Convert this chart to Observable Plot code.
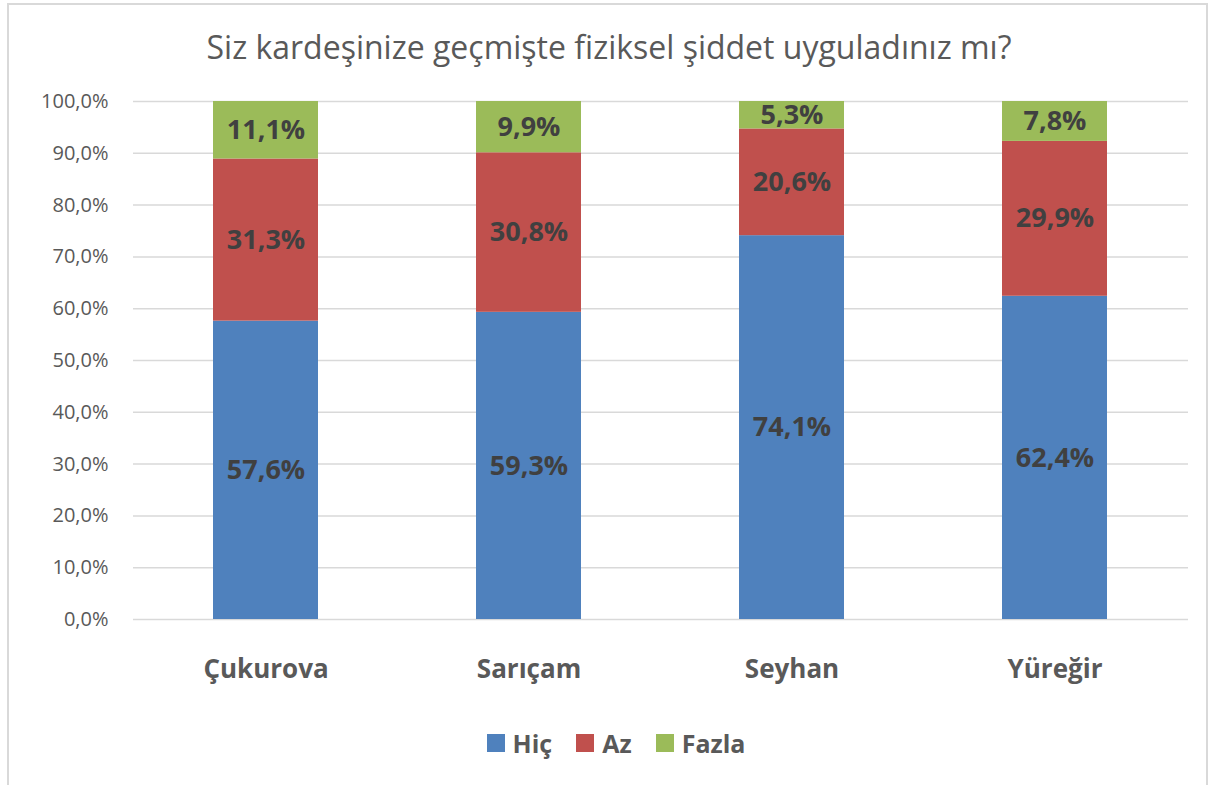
<!DOCTYPE html>
<html>
<head>
<meta charset="utf-8">
<script src="https://cdn.jsdelivr.net/npm/d3@7"></script>
<script src="https://cdn.jsdelivr.net/npm/@observablehq/plot@0.6"></script>
<style>
  html, body { margin: 0; padding: 0; background: #fff; }
  body { width: 1218px; height: 785px; position: relative; overflow: hidden; font-family: "Open Sans", sans-serif; }
  #frame { position: absolute; left: 7px; top: 3px; width: 1201px; height: 800px; border: 2px solid #d9d9d9; box-sizing: border-box; }
  #title { position: absolute; left: 0; width: 1218px; top: 25px; text-align: center; font-size: 32px; color: #595959; }
  #chart { position: absolute; left: 0; top: 0; }
  #legend { position: absolute; left: 0; width: 1218px; top: 726px; display: flex; justify-content: center; gap: 24px; font-size: 25px; font-weight: bold; color: #595959; padding-left: 14px; box-sizing: border-box; }
  #legend span.item { display: flex; align-items: center; }
  #legend span.sw { display: inline-block; width: 18px; height: 18px; margin-right: 8px; }
</style>
</head>
<body>
<div id="frame"></div>
<div id="chart"></div>
<div id="title">Siz kardeşinize geçmişte fiziksel şiddet uyguladınız mı?</div>
<div id="legend"></div>
<script>
const districts = ["Çukurova", "Sarıçam", "Seyhan", "Yüreğir"];
const seriesNames = ["Hiç", "Az", "Fazla"];
const seriesColors = ["#4F81BD", "#C0504D", "#9BBB59"];
const hic = [57.6, 59.3, 74.1, 62.4];
const az = [31.3, 30.8, 20.6, 29.9];
const fazla = [11.1, 9.9, 5.3, 7.8];
const yTicks = [0, 10, 20, 30, 40, 50, 60, 70, 80, 90, 100];

const seriesValues = [hic, az, fazla];
const data = [];
seriesNames.forEach((s, si) => {
  districts.forEach((d, di) => {
    data.push({district: d, series: s, value: seriesValues[si][di]});
  });
});

const fmt = v => v.toFixed(1).replace(".", ",") + "%";

const chart = Plot.plot({
  width: 1218,
  height: 700,
  marginTop: 101,
  marginBottom: 81,
  marginLeft: 133,
  marginRight: 30,
  style: {fontFamily: "Open Sans, sans-serif", background: "transparent", overflow: "visible"},
  x: {domain: districts, paddingInner: 0.6, paddingOuter: 0.3, label: null},
  y: {domain: [0, 100], ticks: yTicks, tickFormat: fmt, label: null},
  color: {domain: seriesNames, range: seriesColors},
  marks: [
    Plot.gridY(yTicks, {stroke: "#d9d9d9", strokeOpacity: 1, strokeWidth: 1.5}),
    Plot.barY(data, Plot.stackY({x: "district", y: "value", fill: "series", order: seriesNames, clip: true})),
    Plot.text(data, Plot.stackY({x: "district", y: "value", z: "series", order: seriesNames, text: d => fmt(d.value), fill: "#404040", fontSize: 27, fontWeight: "bold"})),
    Plot.axisY({ticks: yTicks, tickFormat: fmt, tickSize: 0, tickPadding: 25, fontSize: 20, label: null}),
    Plot.axisX({tickSize: 0, tickPadding: 40, fontSize: 26, fontWeight: "bold", label: null})
  ]
});
chart.querySelectorAll("g[aria-label='y-axis tick label'], g[aria-label='x-axis tick label']").forEach(g => { g.setAttribute("fill", "#595959"); g.querySelectorAll("text").forEach(t => t.setAttribute("fill", "#595959")); });
document.getElementById("chart").appendChild(chart);

const legend = document.getElementById("legend");
seriesNames.forEach((s, i) => {
  const item = document.createElement("span");
  item.className = "item";
  const sw = document.createElement("span");
  sw.className = "sw";
  sw.style.background = seriesColors[i];
  item.appendChild(sw);
  item.appendChild(document.createTextNode(s));
  legend.appendChild(item);
});
</script>
</body>
</html>
